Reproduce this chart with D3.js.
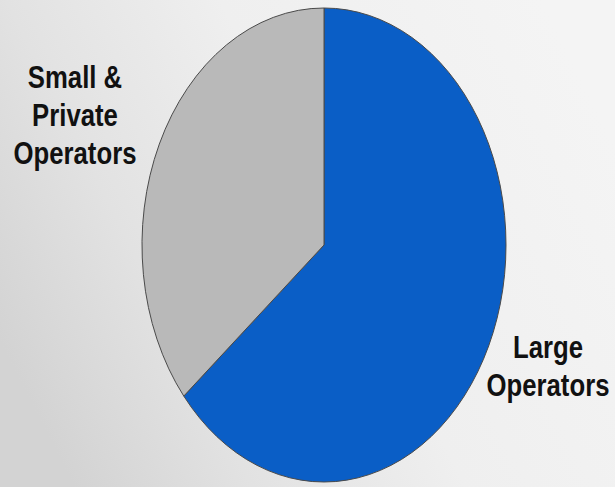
<!DOCTYPE html>
<html>
<head>
<meta charset="utf-8">
<script src="https://cdn.jsdelivr.net/npm/d3@7/dist/d3.min.js"></script>
<style>
html,body{margin:0;padding:0;overflow:hidden;background:#eee;}
</style>
</head>
<body>
<svg id="chart" width="615" height="487"></svg>
<script>
const categories = ["Large Operators", "Small & Private Operators"];
const values = [64, 36];
const colors = ["#0a5ec6", "#b9b9b9"];
const labelLines = [["Large", "Operators"], ["Small &", "Private", "Operators"]];

const W = 615, H = 487;
const svg = d3.select("#chart");

// background
const defs = svg.append("defs");
const g1 = defs.append("linearGradient").attr("id", "bg")
  .attr("x1", "0%").attr("y1", "70%").attr("x2", "100%").attr("y2", "30%");
g1.append("stop").attr("offset", "0%").attr("stop-color", "#d3d3d3");
g1.append("stop").attr("offset", "25%").attr("stop-color", "#e2e2e2");
g1.append("stop").attr("offset", "55%").attr("stop-color", "#efefef");
g1.append("stop").attr("offset", "100%").attr("stop-color", "#f4f4f4");
svg.append("rect").attr("width", W).attr("height", H).attr("fill", "url(#bg)");

const cx = 324, cy = 245, rx = 182, ry = 237;
const pie = d3.pie().sort(null).value(d => d)(values);
const arc = d3.arc().innerRadius(0).outerRadius(ry);

const pg = svg.append("g")
  .attr("transform", `translate(${cx},${cy}) scale(${rx / ry},1)`);
pg.selectAll("path").data(pie).join("path")
  .attr("d", arc)
  .attr("fill", (d, i) => colors[i])
  .attr("stroke", "#4a4a4a")
  .attr("stroke-width", 1)
  .attr("vector-effect", "non-scaling-stroke");

// labels (condensed bold sans)
const labelPos = [{x: 548, y: 358}, {x: 75, y: 88}];
const lineH = 38;
labelLines.forEach((lines, i) => {
  const t = svg.append("g")
    .attr("transform", `translate(${labelPos[i].x},0) scale(0.83,1)`)
    .append("text")
    .attr("text-anchor", "middle")
    .attr("font-family", "'Liberation Sans', Arial, sans-serif")
    .attr("font-weight", "bold")
    .attr("font-size", 31)
    .attr("fill", "#111");
  lines.forEach((ln, j) => {
    t.append("tspan").attr("x", 0).attr("y", labelPos[i].y + j * lineH).text(ln);
  });
});
</script>
</body>
</html>
